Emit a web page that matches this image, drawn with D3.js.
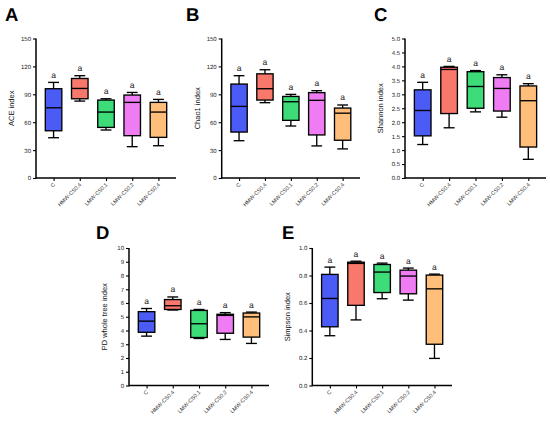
<!DOCTYPE html>
<html>
<head>
<meta charset="utf-8">
<script src="https://cdn.jsdelivr.net/npm/d3@7"></script>
<style>
  html, body { margin: 0; padding: 0; background: #fff; }
  svg { display: block; font-family: "Liberation Sans", Arial, sans-serif; }
  text { text-rendering: geometricPrecision; -webkit-font-smoothing: antialiased; }
</style>
</head>
<body>
<svg id="chart" width="550" height="422"></svg>
<script>
// ---- data: [min, Q1, median, Q3, max] per group ----
const categories = ["C", "HMW-CS0.4", "LMW-CS0.1", "LMW-CS0.2", "LMW-CS0.4"];
const groupColors = ["#4a5cf5", "#f8786c", "#3ddc78", "#ef7cf3", "#ffbf7a"];
const sigLetters = ["a", "a", "a", "a", "a"];

const aceValues = [
  [43.3, 50.8, 75.5, 96.0, 102.8],
  [82.7, 85.2, 96.3, 107.0, 110.0],
  [51.6, 54.4, 70.9, 83.8, 85.2],
  [33.7, 45.5, 81.3, 89.2, 92.0],
  [34.7, 43.7, 70.9, 81.3, 84.5]
];
const chao1Values = [
  [40.1, 49.4, 77.0, 101.0, 110.0],
  [81.0, 83.8, 96.0, 112.0, 116.4],
  [55.9, 62.0, 82.0, 87.7, 89.9],
  [34.5, 46.3, 83.5, 91.8, 93.9],
  [31.3, 40.6, 69.7, 75.2, 78.5]
];
const shannonValues = [
  [1.20, 1.51, 2.42, 3.16, 3.43],
  [1.80, 2.31, 3.89, 3.97, 4.00],
  [2.37, 2.50, 3.28, 3.81, 3.85],
  [2.18, 2.40, 3.21, 3.60, 3.70],
  [0.67, 1.11, 2.77, 3.30, 3.38]
];
const pdValues = [
  [3.59, 3.87, 4.68, 5.37, 5.60],
  [5.49, 5.53, 5.80, 6.25, 6.44],
  [3.42, 3.49, 4.49, 5.46, 5.53],
  [3.35, 3.80, 5.10, 5.18, 5.30],
  [3.06, 3.52, 4.99, 5.27, 5.34]
];
const simpsonValues = [
  [0.362, 0.427, 0.633, 0.808, 0.861],
  [0.477, 0.583, 0.888, 0.897, 0.904],
  [0.631, 0.676, 0.825, 0.880, 0.890],
  [0.621, 0.667, 0.796, 0.839, 0.854],
  [0.197, 0.300, 0.703, 0.803, 0.810]
];

const aceTicks = [0, 30, 60, 90, 120, 150];
const chao1Ticks = [0, 30, 60, 90, 120, 150];
const shannonTicks = [0, 0.5, 1, 1.5, 2, 2.5, 3, 3.5, 4, 4.5, 5];
const pdTicks = [0, 1, 2, 3, 4, 5, 6, 7, 8, 9, 10];
const simpsonTicks = [0, 0.2, 0.4, 0.6, 0.8, 1.0];

// ---- panels (layout) ----
const panels = [
  { letter: "A", label: "ACE index", values: aceValues, ticks: aceTicks, fmt: d3.format("d"),
    x0: 36, x1: 176, y0: 178, y1: 38.5, lx: 5, ly: 21 },
  { letter: "B", label: "Chao1 index", values: chao1Values, ticks: chao1Ticks, fmt: d3.format("d"),
    x0: 221.7, x1: 360, y0: 178, y1: 38.5, lx: 186, ly: 21 },
  { letter: "C", label: "Shannon index", values: shannonValues, ticks: shannonTicks, fmt: d3.format(".1f"),
    x0: 405, x1: 546, y0: 178, y1: 38.5, lx: 374, ly: 21 },
  { letter: "D", label: "PD whole tree index", values: pdValues, ticks: pdTicks, fmt: d3.format("d"),
    x0: 129, x1: 269, y0: 385.5, y1: 248, lx: 96, ly: 239 },
  { letter: "E", label: "Simpson index", values: simpsonValues, ticks: simpsonTicks, fmt: d3.format(".1f"),
    x0: 312.3, x1: 452, y0: 385.5, y1: 248, lx: 282, ly: 239 }
];

const svg = d3.select("#chart");
const SW = 1.35;

panels.forEach(p => {
  const g = svg.append("g");
  const x = d3.scalePoint().domain(categories).range([p.x0, p.x1]).padding(0.67);
  const y = d3.scaleLinear().domain([p.ticks[0], p.ticks[p.ticks.length - 1]]).range([p.y0, p.y1]);
  const boxW = x.step() * 0.63;
  const capW = boxW * 0.66;

  // panel letter
  g.append("text").attr("x", p.lx).attr("y", p.ly)
    .attr("font-size", 18.5).attr("font-weight", "bold").attr("fill", "#000")
    .text(p.letter);

  // y axis
  const yAxis = d3.axisLeft(y).tickValues(p.ticks).tickFormat(p.fmt).tickSize(3).tickPadding(2);
  const ya = g.append("g").attr("transform", `translate(${p.x0},0)`).call(yAxis);
  ya.select(".domain").attr("stroke", "#000").attr("stroke-width", 1.5)
    .attr("d", `M0,${p.y0 + 0.75}V${p.y1}`);
  ya.selectAll(".tick line").attr("stroke", "#000").attr("stroke-width", 1.1);
  ya.selectAll(".tick text").attr("font-size", 6).attr("fill", "#222")
    .attr("font-family", "Liberation Sans, Arial, sans-serif");

  // x axis
  const xAxis = d3.axisBottom(x).tickSize(3).tickPadding(2);
  const xa = g.append("g").attr("transform", `translate(0,${p.y0})`).call(xAxis);
  xa.select(".domain").attr("stroke", "#000").attr("stroke-width", 1.5)
    .attr("d", `M${p.x0},0H${p.x1}`);
  xa.selectAll(".tick line").attr("stroke", "#000").attr("stroke-width", 1.1);
  xa.selectAll(".tick text")
    .attr("font-size", 5.5).attr("fill", "#333")
    .attr("font-family", "Liberation Sans, Arial, sans-serif")
    .attr("text-anchor", "end")
    .attr("dy", null).attr("y", 0)
    .attr("transform", "translate(1.5,7) rotate(-45)");

  // y label
  g.append("text")
    .attr("transform", `translate(${p.x0 - 22},${(p.y0 + p.y1) / 2}) rotate(-90)`)
    .attr("text-anchor", "middle").attr("font-size", 7.5).attr("fill", "#111")
    .text(p.label);

  // boxes
  const bg = g.append("g");
  p.values.forEach((v, i) => {
    const cx = x(categories[i]);
    const [mn, q1, md, q3, mx] = v;
    // whiskers
    bg.append("line").attr("x1", cx).attr("x2", cx).attr("y1", y(q3)).attr("y2", y(mx))
      .attr("stroke", "#000").attr("stroke-width", SW);
    bg.append("line").attr("x1", cx).attr("x2", cx).attr("y1", y(q1)).attr("y2", y(mn))
      .attr("stroke", "#000").attr("stroke-width", SW);
    bg.append("line").attr("x1", cx - capW / 2).attr("x2", cx + capW / 2).attr("y1", y(mx)).attr("y2", y(mx))
      .attr("stroke", "#000").attr("stroke-width", SW);
    bg.append("line").attr("x1", cx - capW / 2).attr("x2", cx + capW / 2).attr("y1", y(mn)).attr("y2", y(mn))
      .attr("stroke", "#000").attr("stroke-width", SW);
    // box
    bg.append("rect").attr("x", cx - boxW / 2).attr("y", y(q3))
      .attr("width", boxW).attr("height", y(q1) - y(q3))
      .attr("fill", groupColors[i]).attr("stroke", "#000").attr("stroke-width", SW);
    // median
    bg.append("line").attr("x1", cx - boxW / 2).attr("x2", cx + boxW / 2).attr("y1", y(md)).attr("y2", y(md))
      .attr("stroke", "#000").attr("stroke-width", SW);
    // significance letter
    bg.append("text").attr("x", cx).attr("y", y(mx) - 4.5)
      .attr("text-anchor", "middle").attr("font-size", 8.5).attr("fill", "#222")
      .text(sigLetters[i]);
  });
});
</script>
</body>
</html>
